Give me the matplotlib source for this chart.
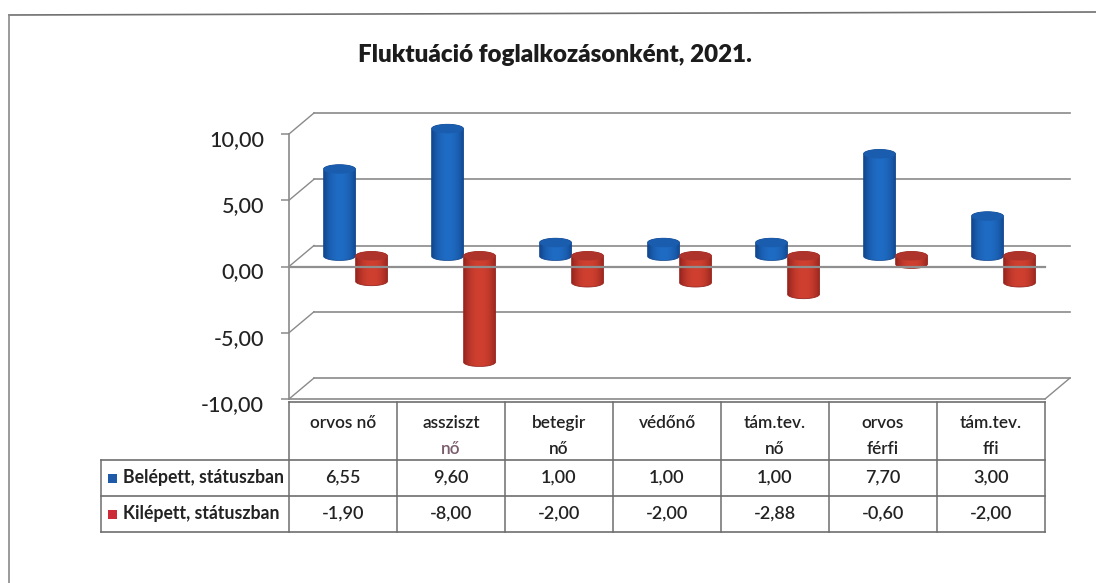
import numpy as np
import matplotlib
matplotlib.use('Agg')
import matplotlib.pyplot as plt
from matplotlib.patches import Ellipse, Polygon, Rectangle
from matplotlib.transforms import ScaledTranslation

# Adatok
kategoriak = ['orvos nő', 'asszisz\u0074\nnő', 'betegir\nnő', 'védőnő', 'tám.tev.\nnő', 'orvos\nférfi', 'tám.tev.\nffi']
belepett = [6.55, 9.60, 1.00, 1.00, 1.00, 7.70, 3.00]
kilepett = [-1.90, -8.00, -2.00, -2.00, -2.88, -0.60, -2.00]
sorozat_nevek = ['Belépett, státuszban', 'Kilépett, státuszban']
y_tickek = [-10, -5, 0, 5, 10]
cim = 'Fluktuáció foglalkozásonként, 2021.'

W, H = 1096, 583
BETU = 'Lato'
SZOVEG = '#222222'
VONAL = '#8a8a8a'
KEK = ('#12488f', '#1f6cc4', '#1a5cae')
PIROS = ('#97251e', '#d04030', '#ae342b')

# front plane of the 3D box in pixels
BAL, JOBB, FENT, LENT = 289, 1045, 134, 399
px_x = (JOBB - BAL) / 7
px_y = (LENT - FENT) / 20
dx = 25 / px_x
dy = 21 / px_y


def vesszo(v):
    return f'{v:.2f}'.replace('.', ',')


def henger(ax, x0, szel, v, szinek, z):
    # cylinder standing on the zero plane, half way into the depth of the box
    x0 = x0 + dx / 2
    y0 = dy / 2
    also, felso = min(v, 0) + y0, max(v, 0) + y0
    cx = x0 + szel / 2
    eh = 4.5 / px_y
    t = np.linspace(0, np.pi, 40)
    ex = cx + np.cos(t) * szel / 2
    ey = np.sin(t) * eh
    korvonal = np.column_stack([
        np.r_[ex, ex[::-1]],
        np.r_[felso + ey, also - ey[::-1]],
    ])
    poly = Polygon(korvonal, closed=True, fc='none', ec=szinek[0], lw=0.6, zorder=z + 0.2, clip_on=False)
    ax.add_patch(poly)
    gr = np.abs(np.linspace(-1, 1, 64)) ** 2.2
    c0 = np.array(matplotlib.colors.to_rgb(szinek[0]))
    c1 = np.array(matplotlib.colors.to_rgb(szinek[1]))
    kep = (c1[None, :] * (1 - gr[:, None]) + c0[None, :] * gr[:, None])[None, :, :]
    im = ax.imshow(kep, extent=(x0, x0 + szel, also - eh, felso + eh), aspect='auto',
                   origin='lower', zorder=z, interpolation='bilinear')
    im.set_clip_path(poly)
    im.set_clip_box(fig.bbox)
    ax.add_patch(Ellipse((cx, felso), szel, 2 * eh, fc=szinek[2], ec='none', zorder=z + 0.3, clip_on=False))


fig = plt.figure(figsize=(W / 100, H / 100), dpi=100, facecolor='white')
ax = fig.add_axes([BAL / W, 1 - LENT / H, (JOBB - BAL) / W, (LENT - FENT) / H])
ax.patch.set_alpha(0)

# back wall and side wall
for v in y_tickek:
    ax.plot([dx, 7 + dx], [v + dy, v + dy], color=VONAL, lw=1.2, clip_on=False, zorder=1)
    ax.plot([0, dx], [v, v + dy], color=VONAL, lw=1.0, clip_on=False, zorder=1)
ax.plot([7, 7 + dx], [-10, -10 + dy], color=VONAL, lw=1.0, clip_on=False, zorder=1)

szel = 32 / px_x
for i, (b, k) in enumerate(zip(belepett, kilepett)):
    kozep = i + 0.5
    henger(ax, kozep - szel, szel, b, KEK, 3)
    henger(ax, kozep, szel, k, PIROS, 4)

# front zero line runs over the bars
ax.axhline(0, color='#8f8f8f', lw=1.6, zorder=6, clip_on=False)

ax.set_xlim(0, 7)
ax.set_ylim(-10, 10)
ax.set_xticks([])
ax.set_yticks(y_tickek)
ax.set_yticklabels([vesszo(v) for v in y_tickek], fontsize=15.5, family=BETU, color=SZOVEG, fontweight='medium')
ax.tick_params(axis='y', length=6, width=1.1, color=VONAL, pad=12)
eltol = ScaledTranslation(0, -4 / 100, fig.dpi_scale_trans)
for c in ax.get_yticklabels():
    c.set_transform(c.get_transform() + eltol)
for s in ['top', 'right']:
    ax.spines[s].set_visible(False)
for s in ['left', 'bottom']:
    ax.spines[s].set_color(VONAL)
    ax.spines[s].set_linewidth(1.2)

# overlay in pixels for frame, title and data table
ov = fig.add_axes([0, 0, 1, 1], zorder=5)
ov.set_xlim(0, W)
ov.set_ylim(H, 0)
ov.axis('off')

ov.plot([9, W], [15, 12], color='#707070', lw=1.2)
ov.plot([9, 9], [15, H], color='#8a8a8a', lw=1.2)

ov.text(555, 55, cim, ha='center', va='center', fontsize=17.4, fontweight='heavy',
        family=BETU, color='#1c1c1c')

TABLA_BAL = 101
sorok = [402, 460, 496, 532]
oszlopok = [BAL + i * px_x for i in range(8)]
TV = '#6e6e6e'
for y in sorok[1:]:
    ov.plot([TABLA_BAL, oszlopok[-1]], [y, y], color=TV, lw=1.2)
ov.plot([BAL, oszlopok[-1]], [sorok[0], sorok[0]], color=TV, lw=1.2)
for x in oszlopok:
    ov.plot([x, x], [sorok[0], sorok[-1]], color=TV, lw=1.1)
ov.plot([TABLA_BAL, TABLA_BAL], [sorok[1], sorok[-1]], color=TV, lw=1.1)

for i, nev in enumerate(kategoriak):
    sorok_txt = nev.split('\n')
    cx = oszlopok[i] + px_x / 2
    ov.text(cx, 423, sorok_txt[0], ha='center', va='center', fontsize=12.4, family=BETU,
            color=SZOVEG, fontweight='semibold')
    if len(sorok_txt) > 1:
        # the second line of this one column is paler in the scan
        szin = '#7a5c6c' if i == 1 else SZOVEG
        ov.text(cx, 449, sorok_txt[1], ha='center', va='center', fontsize=12.4, family=BETU,
                color=szin, fontweight='semibold')
    ov.text(cx, 478, vesszo(belepett[i]), ha='center', va='center', fontsize=13,
            family=BETU, color=SZOVEG, fontweight='semibold')
    ov.text(cx, 514, vesszo(kilepett[i]), ha='center', va='center', fontsize=13,
            family=BETU, color=SZOVEG, fontweight='semibold')

for y, nev, szin in zip([478, 514], sorozat_nevek, ['#1f5aa8', '#cc2a36']):
    ov.add_patch(Rectangle((108, y - 4.5), 9, 9, fc=szin, ec='none'))
    ov.text(123, y, nev, ha='left', va='center', fontsize=12.7, family=BETU,
            color=SZOVEG, fontweight='bold')

fig.savefig('out.png', dpi=100)
